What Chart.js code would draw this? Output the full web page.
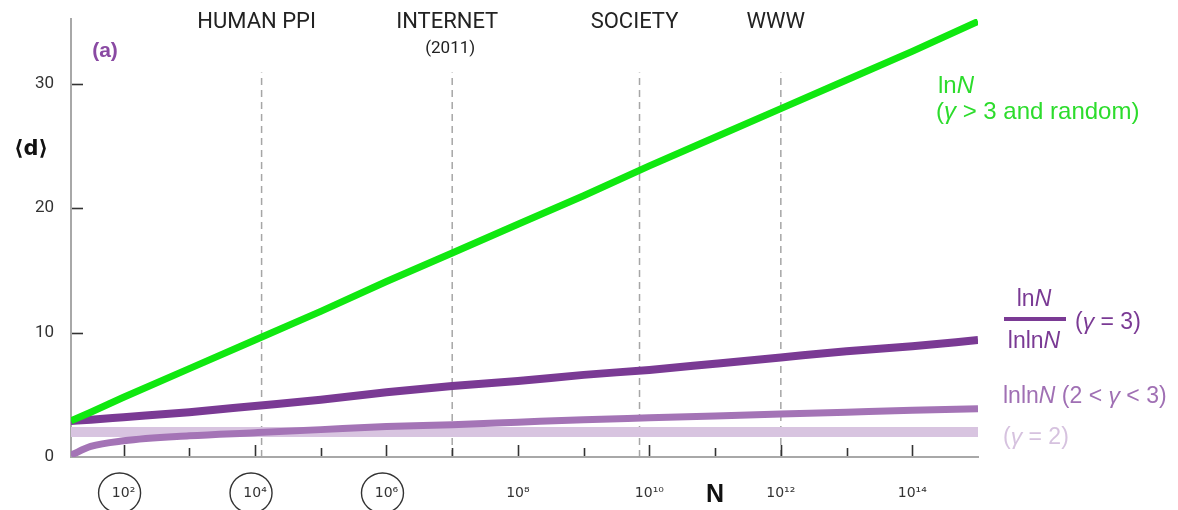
<!DOCTYPE html>
<html><head><meta charset="utf-8">
<script src="https://cdn.jsdelivr.net/npm/chart.js@4.4.1/dist/chart.umd.min.js"></script>
<style>html,body{margin:0;padding:0;background:#fff;} #c{display:block;}</style>
</head><body>
<canvas id="c" width="1178" height="510"></canvas>
<script>
// ---- data (log10 N on x, <d> on y) ----
const logN      = [1.2, 1.5, 2, 3, 4, 5, 6, 7, 8, 9, 10, 11, 12, 13, 14, 15];
const dRandom   = [2.9, 3.6, 4.8, 7.1, 9.4, 11.7, 14.1, 16.4, 18.7, 21.0, 23.4, 25.7, 28.0, 30.3, 32.6, 35.0];
const dGamma3   = [2.9, 3.0, 3.2, 3.6, 4.1, 4.6, 5.2, 5.7, 6.1, 6.6, 7.0, 7.5, 8.0, 8.5, 8.9, 9.4];
const dGamma23  = [0.15, 0.85, 1.3, 1.7, 1.95, 2.2, 2.45, 2.6, 2.8, 3.0, 3.15, 3.3, 3.45, 3.6, 3.75, 3.87];
const dGamma2   = [2.0, 2.0, 2.0, 2.0, 2.0, 2.0, 2.0, 2.0, 2.0, 2.0, 2.0, 2.0, 2.0, 2.0, 2.0, 2.0];
const xTickValues = [2, 3, 4, 5, 6, 7, 8, 9, 10, 11, 12, 13, 14];
const xTickLabels = {2:'10²', 4:'10⁴', 6:'10⁶', 8:'10⁸', 10:'10¹⁰', 12:'10¹²', 14:'10¹⁴'};
const circledTicks = [2, 4, 6];
const yTickValues = [0, 10, 20, 30];
const networks     = ['HUMAN PPI', 'INTERNET', 'SOCIETY', 'WWW'];
const networkLogN  = [4.1, 7.0, 9.85, 12.0];
const networkTop   = 30.9;

const pts = ys => logN.map((x, i) => ({x, y: ys[i]}));
const vline = x => [{x, y: 0}, {x, y: networkTop}];

const datasets = [
  {data: pts(dRandom),  borderColor: '#10e810', borderWidth: 7, order: 0, tension: 0},
  {data: pts(dGamma3),  borderColor: '#7a3a94', borderWidth: 8, order: 1},
  {data: pts(dGamma23), borderColor: '#a474b6', borderWidth: 7, order: 2},
  {data: pts(dGamma2),  borderColor: '#d8c4e0', borderWidth: 10, order: 3, tension: 0},
];
networkLogN.forEach(x => datasets.push({data: vline(x), borderColor: '#a6a6a6', borderWidth: 1.5, borderDash: [7, 5], order: 4, tension: 0}));
datasets.forEach(d => { d.pointRadius = 0; d.fill = false; if (d.tension === undefined) d.cubicInterpolationMode = 'monotone'; d.borderCapStyle = 'butt'; });

function rich(ctx, parts, x, y, size, color, align) {
  let w = 0;
  parts.forEach(p => { ctx.font = (p.i ? 'italic ' : '') + (p.b ? 'bold ' : '') + size + 'px "Liberation Sans", Arial, sans-serif'; p.w = ctx.measureText(p.t).width; w += p.w; });
  let cx = align === 'center' ? x - w / 2 : x;
  ctx.fillStyle = color; ctx.textBaseline = 'middle'; ctx.textAlign = 'left';
  parts.forEach(p => { ctx.font = (p.i ? 'italic ' : '') + (p.b ? 'bold ' : '') + size + 'px "Liberation Sans", Arial, sans-serif'; ctx.fillText(p.t, cx, y); cx += p.w; });
  return w;
}

const decor = {
  id: 'decor',
  afterDraw(chart) {
    const ctx = chart.ctx, xs = chart.scales.x, ys = chart.scales.y;
    const bottom = chart.chartArea.bottom, left = chart.chartArea.left;
    ctx.save();
    // inward tick marks
    ctx.strokeStyle = '#333'; ctx.lineWidth = 1.6;
    xTickValues.forEach(v => {
      const px = Math.round(xs.getPixelForValue(v)) + 0.5;
      const len = v % 2 === 0 ? 11 : 8;
      ctx.beginPath(); ctx.moveTo(px, bottom - 1); ctx.lineTo(px, bottom - 1 - len); ctx.stroke();
    });
    yTickValues.slice(1).forEach(v => {
      const py = Math.round(ys.getPixelForValue(v)) + 0.5;
      ctx.beginPath(); ctx.moveTo(left + 1, py); ctx.lineTo(left + 12, py); ctx.stroke();
    });
    // circles around first tick labels
    ctx.lineWidth = 1.4; ctx.strokeStyle = '#333';
    circledTicks.forEach(v => {
      const px = xs.getPixelForValue(v) - 4;
      ctx.beginPath(); ctx.ellipse(px, 493, 21, 20, 0, 0, Math.PI * 2); ctx.stroke();
    });
    // axis title N
    ctx.fillStyle = '#111'; ctx.font = 'bold 25px "Liberation Sans", Arial, sans-serif';
    ctx.textAlign = 'center'; ctx.textBaseline = 'middle';
    ctx.fillText('N', xs.getPixelForValue(11), 495);
    // y title <d>
    ctx.font = 'bold 21px "DejaVu Sans", sans-serif';
    ctx.fillText('⟨d⟩', 31, 150);
    // (a)
    ctx.fillStyle = '#8a4aa3'; ctx.font = 'bold 21px "Liberation Sans", Arial, sans-serif';
    ctx.fillText('(a)', 105, 51);
    // network labels
    ctx.fillStyle = '#222'; ctx.font = '22px Roboto, sans-serif';
    networks.forEach((n, i) => { ctx.fillText(n, xs.getPixelForValue(networkLogN[i]) - 5, 22); });
    ctx.font = '17px Roboto, sans-serif';
    ctx.fillText('(2011)', xs.getPixelForValue(networkLogN[1]) - 2, 49);
    // right-side labels
    const g = '#2cdc2c', p3 = '#7a3a94', p23 = '#a070b4', p2 = '#d6c2df';
    rich(ctx, [{t: 'ln'}, {t: 'N', i: true}], 938, 86, 24, g);
    rich(ctx, [{t: '('}, {t: 'γ', i: true}, {t: ' > 3 and random)'}], 936, 112, 24, g);
    rich(ctx, [{t: 'ln'}, {t: 'N', i: true}], 1034, 300, 23, p3, 'center');
    ctx.fillStyle = p3; ctx.fillRect(1004, 317, 62, 4);
    rich(ctx, [{t: 'lnln'}, {t: 'N', i: true}], 1034, 342, 23, p3, 'center');
    rich(ctx, [{t: '('}, {t: 'γ', i: true}, {t: ' = 3)'}], 1075, 323, 23, p3);
    rich(ctx, [{t: 'lnln'}, {t: 'N', i: true}, {t: ' (2 < '}, {t: 'γ', i: true}, {t: ' < 3)'}], 1003, 397, 23, p23);
    rich(ctx, [{t: '('}, {t: 'γ', i: true}, {t: ' = 2)'}], 1003, 438, 23, p2);
    ctx.restore();
  }
};

new Chart(document.getElementById('c'), {
  type: 'line',
  data: {datasets},
  options: {
    responsive: false, devicePixelRatio: 1, animation: false,
    layout: {padding: {top: 19, right: 200, left: 0, bottom: 0}},
    plugins: {legend: {display: false}, tooltip: {enabled: false}},
    scales: {
      x: {
        type: 'linear', min: 1.2, max: 15.0,
        afterBuildTicks: s => { s.ticks = xTickValues.map(v => ({value: v})); },
        afterFit: s => { s.height = 53; s.paddingLeft = 0; s.paddingRight = 0; },
        grid: {display: false, drawTicks: false},
        border: {display: true, color: '#a8a8a8', width: 2},
        ticks: {padding: 28, maxRotation: 0, autoSkip: false, color: '#333',
          font: {family: '"DejaVu Sans", sans-serif', size: 14},
          callback: v => xTickLabels[v] || ''}
      },
      y: {
        type: 'linear', min: 0, max: 35.2,
        afterBuildTicks: s => { s.ticks = yTickValues.map(v => ({value: v})); },
        afterFit: s => { s.width = 71; s.paddingTop = 0; s.paddingBottom = 0; },
        grid: {display: false, drawTicks: false},
        border: {display: true, color: '#a8a8a8', width: 2},
        ticks: {padding: 17, color: '#333', font: {family: 'Roboto, sans-serif', size: 17}}
      }
    }
  },
  plugins: [decor]
});
</script>
</body></html>
